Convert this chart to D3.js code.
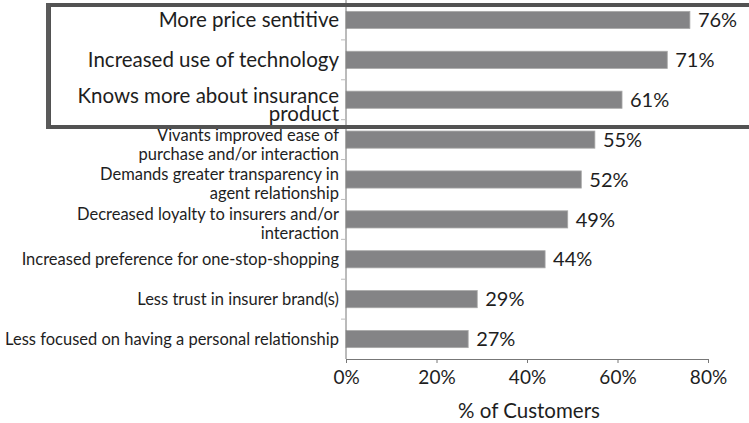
<html>
<head>
<meta charset="utf-8">
<script src="https://cdn.jsdelivr.net/npm/d3@7"></script>
<style>
  body { margin: 0; background: #fff; }
  text { font-family: Lato, "Open Sans", sans-serif; fill: #1e1e1e; }
</style>
</head>
<body>
<div id="chart"></div>
<script>
// Data
var categories = [
  "More price sentitive",
  "Increased use of technology",
  "Knows more about insurance\nproduct",
  "Vivants improved ease of\npurchase and/or interaction",
  "Demands greater transparency in\nagent relationship",
  "Decreased loyalty to insurers and/or\ninteraction",
  "Increased preference for one-stop-shopping",
  "Less trust in insurer brand(s)",
  "Less focused on having a personal relationship"
];
var values = [76, 71, 61, 55, 52, 49, 44, 29, 27];
var xTicks = [0, 20, 40, 60, 80];
var highlighted = 3; // first three rows sit in the framed box

var W = 749, H = 423,
    plotLeft = 346, plotRight = 708, plotTop = 0, plotBottom = 359;

var svg = d3.select("#chart").append("svg").attr("width", W).attr("height", H);

var x = d3.scaleLinear().domain([0, 80]).range([plotLeft, plotRight]);
var y = d3.scaleBand().domain(categories).range([plotTop, plotBottom]).paddingInner(0.57).paddingOuter(0.285);

// Bars
svg.selectAll("rect.bar").data(values).enter().append("rect")
  .attr("class", "bar")
  .attr("x", x(0))
  .attr("y", function(d, i) { return y(categories[i]); })
  .attr("width", function(d) { return x(d) - x(0); })
  .attr("height", y.bandwidth())
  .attr("fill", "#848486")
  .attr("stroke", "#a8a8a8")
  .attr("stroke-width", 0.8);

// Value labels
svg.selectAll("text.val").data(values).enter().append("text")
  .attr("class", "val")
  .attr("x", function(d) { return x(d) + 8; })
  .attr("y", function(d, i) { return y(categories[i]) + y.bandwidth() / 2; })
  .attr("dy", "0.36em")
  .style("font-size", "20px")
  .text(function(d) { return d + "%"; });

// Y axis line and band ticks
svg.append("line").attr("x1", plotLeft).attr("x2", plotLeft).attr("y1", 0).attr("y2", plotBottom)
  .attr("stroke", "#777").attr("stroke-width", 1);
d3.range(1, categories.length).forEach(function(i) {
  var ty = plotTop + i * (plotBottom - plotTop) / categories.length;
  svg.append("line").attr("x1", plotLeft - 5).attr("x2", plotLeft)
    .attr("y1", ty).attr("y2", ty)
    .attr("stroke", "#bbb");
});

// Category labels
categories.forEach(function(c, i) {
  var lines = c.split("\n");
  var big = i < highlighted;
  var cy = y(c) + y.bandwidth() / 2;
  var lh = big ? 18 : 19;
  var y0 = lines.length > 1 ? cy - (big ? 4 : 5) : cy;
  var t = svg.append("text")
    .attr("text-anchor", "end")
    .style("font-size", big ? "20.5px" : "16.5px");
  lines.forEach(function(l, j) {
    t.append("tspan").attr("x", 339).attr("y", y0 + j * lh).attr("dy", "0.36em").text(l);
  });
});

// X axis
var xAxis = d3.axisBottom(x).tickValues(xTicks).tickSize(4).tickPadding(8)
  .tickFormat(function(d) { return d + "%"; });
var gx = svg.append("g").attr("transform", "translate(0," + plotBottom + ")").call(xAxis);
gx.select(".domain").attr("stroke", "#777");
gx.selectAll(".tick line").attr("stroke", "#777");
gx.selectAll(".tick text").style("font-size", "19px").style("font-family", "Lato, sans-serif").attr("fill", "#1e1e1e");

svg.append("text").attr("x", (plotLeft + plotRight) / 2 + 2).attr("y", 411).attr("dy", "0.36em")
  .attr("text-anchor", "middle").style("font-size", "20.5px").text("% of Customers");

// Highlight frame round the first three rows
svg.append("rect").attr("x", 49).attr("y", 5).attr("width", 760).attr("height", 122)
  .attr("fill", "none").attr("stroke", "#525252").attr("stroke-width", 4);
svg.append("line").attr("x1", 48).attr("x2", 48).attr("y1", 3).attr("y2", 129)
  .attr("stroke", "#5a5a5a").attr("stroke-width", 4);
</script>
</body>
</html>
